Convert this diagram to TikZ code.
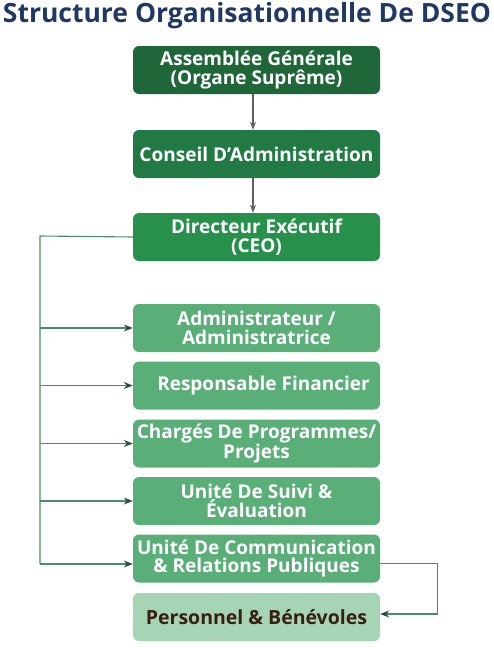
\documentclass[tikz,border=0pt]{standalone}
\usepackage{fontspec}
\setmainfont{Open Sans}
\usetikzlibrary{arrows.meta,positioning}
\definecolor{titleblue}{HTML}{1F3864}
\definecolor{greenA}{HTML}{1F6638}
\definecolor{greenB}{HTML}{217A44}
\definecolor{greenC}{HTML}{27914B}
\definecolor{greenD}{HTML}{5AAE77}
\definecolor{greenE}{HTML}{A6D5B5}
\definecolor{linegreen}{HTML}{4A8C68}
\definecolor{tipgreen}{HTML}{2F4F3F}
\definecolor{textbrown}{HTML}{3B1E12}
\begin{document}
\begin{tikzpicture}[x=1pt,y=-1pt,
    box/.style={rounded corners=6pt, minimum width=247pt, minimum height=48pt,
      inner sep=1pt, align=center, text=white, font=\fontsize{19}{18.5}\selectfont\bfseries},
    down/.style={draw=gray!75!black, line width=1.1pt, -{Stealth[length=8pt,width=6pt]}},
    branch/.style={draw=linegreen, line width=1.1pt, -{Stealth[length=9pt,width=7pt,color=tipgreen]}}]
  % page frame
  \useasboundingbox (0,0) rectangle (494,648);
  % title
  \node[text=titleblue, font=\fontsize{26.5}{28}\selectfont\bfseries] (title) at (247,16) {Structure Organisationnelle De DSEO};
  % top chain
  \node[box, fill=greenA] (assemblee) at (256.5,70) {Assemblée Générale\\(Organe Suprême)};
  \node[box, fill=greenB] (conseil) at (256.5,154) {Conseil D’Administration};
  \node[box, fill=greenC] (directeur) at (256.5,237) {Directeur Exécutif\\(CEO)};
  \draw[down] ([xshift=-3.5pt]assemblee.south) -- ([xshift=-3.5pt]conseil.north);
  \draw[down] ([xshift=-3.5pt]conseil.south) -- ([xshift=-3.5pt]directeur.north);
  % units under the director
  \node[box, fill=greenD] (admin) at (256.5,328) {Administrateur /\\Administratrice};
  \node[box, fill=greenD] (finance) at (256.5,385.5) {\hspace*{14pt}Responsable Financier};
  \node[box, fill=greenD] (programmes) at (256.5,443.5) {Chargés De Programmes/\\Projets};
  \node[box, fill=greenD] (suivi) at (256.5,501) {Unité De Suivi \&\\Évaluation};
  \node[box, fill=greenD] (communication) at (256.5,558.5) {Unité De Communication\\\& Relations Publiques};
  \node[box, fill=greenE, text=textbrown, font=\fontsize{19.5}{20}\selectfont\bfseries] (personnel) at (256.5,617) {Personnel \& Bénévoles};
  % left trunk
  \coordinate (trunk) at (40,236);
  \draw[linegreen, line width=1.1pt] (directeur.west) -- (trunk) -- (40,564);
  \foreach \unit in {admin,finance,programmes,suivi}
    \draw[branch] (trunk |- \unit.west) -- (\unit.west);
  \draw[branch] ([yshift=-5.5pt]communication.west -| trunk) -- ([yshift=-5.5pt]communication.west);
  % right return
  \draw[branch] ([yshift=-5pt]communication.east) -- ++(57,0) |- ([yshift=3pt]personnel.east);
\end{tikzpicture}
\end{document}
